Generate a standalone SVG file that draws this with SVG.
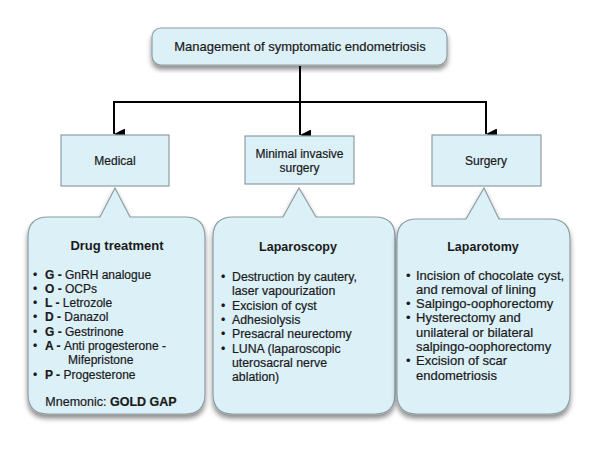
<svg xmlns="http://www.w3.org/2000/svg" width="600" height="451" viewBox="0 0 600 451">
<defs>
<filter id="sh" x="-10%" y="-10%" width="120%" height="130%">
<feDropShadow dx="0" dy="4" stdDeviation="2.5" flood-color="#000" flood-opacity="0.45"/>
</filter>
<marker id="ah" markerWidth="11" markerHeight="11" refX="5.5" refY="11" orient="auto" markerUnits="userSpaceOnUse" viewBox="0 0 11 11">
<path d="M0,0 L11,0 L5.5,11 Z" fill="#000"/>
</marker>
</defs>
<style>
.box{fill:#dcf0f8;stroke:#8e9ca2;stroke-width:1.2}
.t{font-family:"Liberation Sans",Arial,sans-serif;font-size:12px;fill:#1a1a1a;stroke:#1a1a1a;stroke-width:0.2}
.h{font-family:"Liberation Sans",Arial,sans-serif;font-size:12.5px;font-weight:bold;fill:#1a1a1a;text-anchor:middle}
.c{text-anchor:middle}
.b{font-weight:bold}
.ln{fill:none;stroke:#000;stroke-width:2}
</style>
<rect width="600" height="451" fill="#fff"/>
<g id="connectors">
<path class="ln" d="M300,66 V102"/>
<path class="ln" d="M114,102 H486"/>
<path class="ln" d="M114,101 V134" marker-end="url(#ah)"/>
<path class="ln" d="M300,102 V135" marker-end="url(#ah)"/>
<path class="ln" d="M486,101 V134" marker-end="url(#ah)"/>
</g>
<g id="root">
<rect class="box" x="152" y="28" width="295" height="37" rx="9" filter="url(#sh)"/>
<text class="t c" x="300" y="51" style="font-size:13px">Management of symptomatic endometriosis</text>
</g>
<g id="drug">
<path class="box" filter="url(#sh)" d="M48,217 L100,217 L115,188 L130,217 L185,217 Q205,217 205,237 L205,394 Q205,414 185,414 L48,414 Q28,414 28,394 L28,237 Q28,217 48,217 Z"/>
<text class="h" x="117" y="250" style="font-size:13px">Drug treatment</text>
<g class="t">
<text x="33" y="278.5">•</text><text x="45" y="278.5"><tspan class="b">G - </tspan>GnRH analogue</text>
<text x="33" y="292.8">•</text><text x="45" y="292.8"><tspan class="b">O - </tspan>OCPs</text>
<text x="33" y="307.1">•</text><text x="45" y="307.1"><tspan class="b">L - </tspan>Letrozole</text>
<text x="33" y="321.4">•</text><text x="45" y="321.4"><tspan class="b">D - </tspan>Danazol</text>
<text x="33" y="335.7">•</text><text x="45" y="335.7"><tspan class="b">G - </tspan>Gestrinone</text>
<text x="33" y="350">•</text><text x="45" y="350"><tspan class="b">A - </tspan>Anti progesterone -</text>
<text x="68" y="364.3">Mifepristone</text>
<text x="33" y="378.6">•</text><text x="45" y="378.6"><tspan class="b">P - </tspan>Progesterone</text>
<text x="111" y="406" class="c" style="font-size:12.5px">Mnemonic: <tspan class="b">GOLD GAP</tspan></text>
</g>
</g>
<g id="laparoscopy">
<path class="box" filter="url(#sh)" d="M233,217 L283,217 L299,188 L316,217 L375,217 Q395,217 395,237 L395,394 Q395,414 375,414 L233,414 Q213,414 213,394 L213,237 Q213,217 233,217 Z"/>
<text class="h" x="298" y="251">Laparoscopy</text>
<g class="t" style="font-size:12.3px">
<text x="221" y="281">•</text><text x="232" y="281">Destruction by cautery,</text>
<text x="232" y="295.3">laser vapourization</text>
<text x="221" y="309.6">•</text><text x="232" y="309.6">Excision of cyst</text>
<text x="221" y="323.9">•</text><text x="232" y="323.9">Adhesiolysis</text>
<text x="221" y="338.2">•</text><text x="232" y="338.2">Presacral neurectomy</text>
<text x="221" y="352.5">•</text><text x="232" y="352.5">LUNA (laparoscopic</text>
<text x="232" y="366.8">uterosacral nerve</text>
<text x="232" y="381.1">ablation)</text>
</g>
</g>
<g id="laparotomy">
<path class="box" filter="url(#sh)" d="M417,219 L466,219 L484,188 L499,219 L550,219 Q570,219 570,239 L570,394 Q570,414 550,414 L417,414 Q397,414 397,394 L397,239 Q397,219 417,219 Z"/>
<text class="h" x="483" y="251">Laparotomy</text>
<g class="t" style="font-size:13px">
<text x="406" y="279.5">•</text><text x="416" y="279.5">Incision of chocolate cyst,</text>
<text x="416" y="293.8">and removal of lining</text>
<text x="406" y="308.1">•</text><text x="416" y="308.1">Salpingo-oophorectomy</text>
<text x="406" y="322.4">•</text><text x="416" y="322.4">Hysterectomy and</text>
<text x="416" y="336.7">unilateral or bilateral</text>
<text x="416" y="351">salpingo-oophorectomy</text>
<text x="406" y="365.3">•</text><text x="416" y="365.3">Excision of scar</text>
<text x="416" y="379.6">endometriosis</text>
</g>
</g>
<g id="medical">
<rect class="box" x="61" y="135" width="108" height="51"/>
<text class="t c" x="115" y="165">Medical</text>
</g>
<g id="mis">
<rect class="box" x="245" y="136" width="109" height="48"/>
<text class="t c" x="299.5" y="158">Minimal invasive</text>
<text class="t c" x="299.5" y="172">surgery</text>
</g>
<g id="surgery">
<rect class="box" x="432" y="135" width="109" height="51"/>
<text class="t c" x="486" y="165">Surgery</text>
</g>
</svg>
